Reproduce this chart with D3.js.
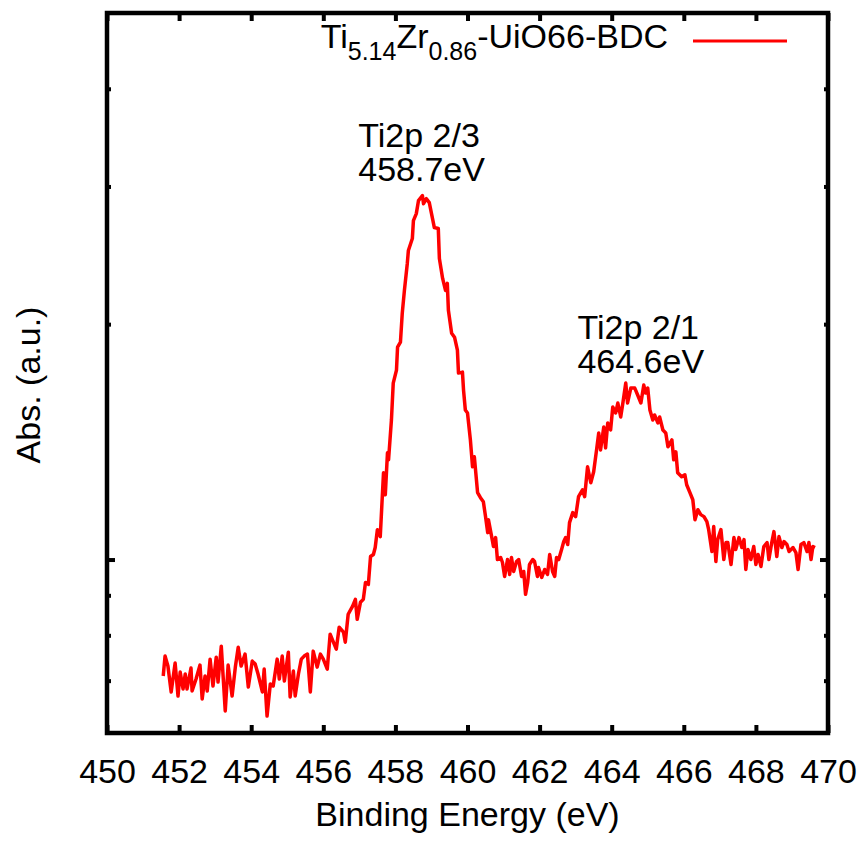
<!DOCTYPE html>
<html>
<head>
<meta charset="utf-8">
<script src="https://cdn.jsdelivr.net/npm/d3@7"></script>
<style>
	body { margin: 0; background: #fff; }
	svg text { font-family: "Liberation Sans", Arial, sans-serif; fill: #000; }
</style>
</head>
<body>
<script>
// binding energy (eV)
let energy = [
	451.56,451.61,451.69,451.78,451.89,451.97,452.03,452.11,452.17,452.22,
	452.33,452.36,452.47,452.58,452.64,452.72,452.78,452.86,452.94,453.03,
	453.08,453.17,453.28,453.36,453.47,453.56,453.64,453.72,453.83,453.92,
	454.03,454.11,454.19,454.31,454.36,454.44,454.53,454.61,454.72,454.78,
	454.86,454.92,455.03,455.08,455.17,455.22,455.31,455.39,455.47,455.56,
	455.64,455.72,455.83,455.92,456.00,456.11,456.19,456.28,456.36,456.44,
	456.56,456.61,456.69,456.81,456.89,456.94,457.03,457.11,457.17,457.25,
	457.31,457.39,457.44,457.50,457.58,457.67,457.72,457.78,457.81,457.89,
	457.94,458.03,458.06,458.14,458.19,458.25,458.33,458.36,458.47,458.50,
	458.58,458.64,458.75,458.78,458.86,458.94,459.03,459.08,459.19,459.22,
	459.31,459.39,459.44,459.47,459.56,459.64,459.72,459.75,459.86,459.89,
	459.94,460.00,460.08,460.14,460.19,460.28,460.36,460.44,460.50,460.56,
	460.58,460.67,460.72,460.78,460.83,460.92,460.97,461.03,461.11,461.17,
	461.22,461.28,461.36,461.42,461.50,461.56,461.61,461.67,461.72,461.81,
	461.86,461.94,461.97,462.06,462.14,462.22,462.28,462.36,462.42,462.47,
	462.53,462.61,462.67,462.72,462.78,462.83,462.92,463.00,463.08,463.19,
	463.25,463.33,463.42,463.50,463.58,463.64,463.69,463.78,463.83,463.89,
	463.97,464.03,464.11,464.17,464.25,464.31,464.39,464.44,464.53,464.64,
	464.72,464.81,464.89,464.94,465.00,465.06,465.14,465.19,465.28,465.33,
	465.42,465.50,465.56,465.67,465.72,465.78,465.83,465.94,466.03,466.08,
	466.17,466.25,466.31,466.39,466.47,466.56,466.64,466.69,466.78,466.83,
	466.89,466.94,467.03,467.11,467.17,467.22,467.31,467.39,467.44,467.53,
	467.61,467.67,467.72,467.78,467.86,467.94,468.00,468.06,468.14,468.22,
	468.31,468.36,468.44,468.50,468.58,468.64,468.72,468.78,468.86,468.92,
	469.03,469.11,469.17,469.25,469.33,469.42,469.47,469.53,469.58,469.64
];

// intensity (arbitrary counts, log axis)
let intensity = [
	7096,7525,7307,6771,7372,6691,7179,6830,7138,6830,
	7264,6790,7033,7328,6632,7096,6790,7458,6891,7502,
	6972,7748,6402,7328,6691,7285,7726,7307,7569,6871,
	7415,7350,7138,6771,7242,6307,6932,6891,7458,7033,
	7525,6992,7613,6672,7200,6691,7138,7458,7525,7569,
	6771,7636,7285,7569,7458,7242,8026,7840,7680,8192,
	8073,7840,8511,8713,8893,8386,8816,8893,9348,9294,
	10089,10149,10359,10920,10699,12911,12104,13691,13412,15083,
	16815,17467,18689,18965,20650,22091,23915,24843,25735,27130,
	27696,28770,29199,28520,28941,28604,27292,26581,26502,24268,
	22884,22091,22552,20831,19473,19245,18523,17316,17366,16471,
	15532,15397,14223,13140,13532,12175,11997,11857,11347,10825,
	11246,10699,10390,10667,10000,10060,9913,9514,10000,9571,
	10060,9655,9942,10000,9514,9655,9026,9348,9856,10000,
	9942,9514,9769,9486,9711,9571,10149,9655,9514,10060,
	10000,10298,10543,10667,10451,11148,11481,11347,12033,12281,
	12033,13140,12537,12949,13811,14519,13811,14777,13893,14952,
	14646,15671,15397,15856,15218,15856,16815,15856,16569,16569,
	16233,15856,16717,16328,16569,15532,15083,15308,14952,15218,
	14646,14519,13935,14223,13412,13731,12911,12760,12836,12464,
	12175,11926,11246,11581,11414,11347,11181,10920,10238,11018,
	9942,10604,10920,10000,10512,10512,9856,10667,10298,10667,
	10359,10604,9711,10298,10000,10390,9856,10149,9798,10390,
	10512,10000,10512,10857,10089,10699,10359,10543,10451,10238,
	10359,10209,9711,10451,10512,10238,10512,10000,10390,10359
];

let xTicks = [450,452,454,456,458,460,462,464,466,468,470];
let yMajorTicks = [10000];
let yMinorTicks = [7000,8000,9000,20000,30000,40000];

// peak labels, anchored at (energy, intensity) of their first line
let peakLabels = [
	{ lines: ['Ti2p 2/3', '458.7eV'], e: 456.97, v: 33700 },
	{ lines: ['Ti2p 2/1', '464.6eV'], e: 463.05, v: 19140 }
];

let width = 865, height = 842;
let margin = { left: 107, top: 13, right: 37, bottom: 109 };
let w = width - margin.left - margin.right;
let h = height - margin.top - margin.bottom;

let svg = d3.select('body').append('svg')
	.attr('width', width)
	.attr('height', height);

let x = d3.scaleLinear().domain([450, 470]).range([0, w]);
let y = d3.scaleLog().domain([6000, 50000]).range([h, 0]);

let g = svg.append('g').attr('transform', 'translate(' + margin.left + ',' + margin.top + ')');

// axes: ticks pointing inwards, mirrored on top and right (gnuplot style)
function styleAxis(sel) {
	sel.select('.domain').remove();
	sel.selectAll('.tick line').attr('stroke', '#000').attr('stroke-width', 4);
	sel.selectAll('.tick text').attr('font-size', 34).attr('fill', '#000');
}

g.append('g')
	.attr('transform', 'translate(0,' + h + ')')
	.call(d3.axisBottom(x).tickValues(xTicks).tickSizeInner(-8).tickSizeOuter(0).tickPadding(26).tickFormat(d3.format('d')))
	.call(styleAxis);

g.append('g')
	.call(d3.axisTop(x).tickValues(xTicks).tickSizeInner(-8).tickSizeOuter(0).tickFormat(''))
	.call(styleAxis);

g.append('g')
	.call(d3.axisLeft(y).tickValues(yMajorTicks).tickSizeInner(-8).tickSizeOuter(0).tickFormat(''))
	.call(styleAxis);
g.append('g')
	.call(d3.axisLeft(y).tickValues(yMinorTicks).tickSizeInner(-4).tickSizeOuter(0).tickFormat(''))
	.call(styleAxis);

g.append('g')
	.attr('transform', 'translate(' + w + ',0)')
	.call(d3.axisRight(y).tickValues(yMajorTicks).tickSizeInner(-8).tickSizeOuter(0).tickFormat(''))
	.call(styleAxis);
g.append('g')
	.attr('transform', 'translate(' + w + ',0)')
	.call(d3.axisRight(y).tickValues(yMinorTicks).tickSizeInner(-4).tickSizeOuter(0).tickFormat(''))
	.call(styleAxis);

// the spectrum
let points = energy.map(function(e, i) { return [e, intensity[i]]; });

g.append('path')
	.datum(points)
	.attr('fill', 'none')
	.attr('stroke', '#ff0000')
	.attr('stroke-width', 3.5)
	.attr('stroke-linejoin', 'round')
	.attr('d', d3.line()
		.defined(function(d) { return d[1] != null; })
		.x(function(d) { return x(d[0]); })
		.y(function(d) { return y(d[1]); }));

// frame
g.append('rect')
	.attr('width', w)
	.attr('height', h)
	.attr('fill', 'none')
	.attr('stroke', '#000')
	.attr('stroke-width', 4.5);

// peak annotations
peakLabels.forEach(function(p) {
	let t = g.append('text')
		.attr('x', x(p.e))
		.attr('y', y(p.v))
		.attr('font-size', 34);
	p.lines.forEach(function(line, i) {
		t.append('tspan')
			.attr('x', x(p.e))
			.attr('dy', i === 0 ? 0 : 34)
			.text(line);
	});
});

// legend (top right, inside the frame)
let legend = g.append('g');
let lt = legend.append('text')
	.attr('x', 561)
	.attr('y', 35)
	.attr('text-anchor', 'end')
	.attr('font-size', 34);
lt.append('tspan').text('Ti');
lt.append('tspan').attr('font-size', 25).attr('dy', 12).text('5.14');
lt.append('tspan').attr('dy', -12).text('Zr');
lt.append('tspan').attr('font-size', 25).attr('dy', 12).text('0.86');
lt.append('tspan').attr('dy', -12).text('-UiO66-BDC');

legend.append('line')
	.attr('x1', 586).attr('x2', 680)
	.attr('y1', 28).attr('y2', 28)
	.attr('stroke', '#ff0000')
	.attr('stroke-width', 3);

// axis titles
svg.append('text')
	.attr('x', margin.left + w / 2)
	.attr('y', 826)
	.attr('text-anchor', 'middle')
	.attr('font-size', 34)
	.text('Binding Energy (eV)');

svg.append('text')
	.attr('transform', 'translate(40,' + (margin.top + h / 2 + 12) + ') rotate(-90)')
	.attr('text-anchor', 'middle')
	.attr('font-size', 34)
	.text('Abs. (a.u.)');
</script>
</body>
</html>
